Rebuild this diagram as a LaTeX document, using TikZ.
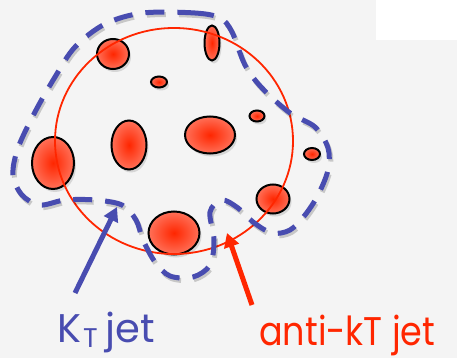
\documentclass[tikz,border=0pt]{standalone}
\usepackage{fontspec}
\setmainfont{Poppins}
\usetikzlibrary{arrows.meta,shapes.geometric,shadows}
\definecolor{ktblue}{RGB}{72,76,176}
\definecolor{akred}{RGB}{255,38,0}
\definecolor{blobedge}{RGB}{255,112,88}
\definecolor{bggray}{RGB}{244,244,244}

\begin{document}
\begin{tikzpicture}[
  x=1pt, y=-1pt,
  blob/.style={ellipse, draw=black, line width=2pt, inner sep=0pt,
    shading=radial, inner color=akred, outer color=blobedge,
    drop shadow={shadow xshift=2pt, shadow yshift=-3pt, opacity=0.25}},
  ktline/.style={draw=ktblue, line width=5pt, dash pattern=on 19pt off 13pt},
  arr/.style={-{Triangle[length=14pt, width=15pt]}, line width=5pt},
  lbl/.style={anchor=base west, inner sep=0pt, font=\fontsize{40}{44}\selectfont}
]
% background
\fill[bggray] (0,0) rectangle (457,358);
\fill[white] (376,0) rectangle (457,40);

% particles
\node[blob, minimum width=32, minimum height=30] (p1) at (113,54) {};
\node[blob, minimum width=15, minimum height=35] (p2) at (212,43) {};
\node[blob, minimum width=16, minimum height=11] (p3) at (159,82) {};
\node[blob, minimum width=15, minimum height=11] (p4) at (257,116) {};
\node[blob, minimum width=35, minimum height=49] (p5) at (129,145) {};
\node[blob, minimum width=50, minimum height=37] (p6) at (210,135) {};
\node[blob, minimum width=16, minimum height=12] (p7) at (312,154) {};
\node[blob, minimum width=42, minimum height=52] (p8) at (53,163) {};
\node[blob, minimum width=33, minimum height=29] (p9) at (273,199) {};
\node[blob, minimum width=51, minimum height=43] (p10) at (174,233) {};

% anti-kT jet
\draw[akred, line width=1.8pt] (174,141) ellipse [x radius=119, y radius=113];

% kT jet
\draw[ktline, draw=black, opacity=0.18, shift={(1.5,2.5)}] plot[smooth cycle, tension=0.55] coordinates {
  (143,13) (195,13) (220,18) (232,32) (245,65) (262,88) (290,113) (315,127)
  (328,148) (328,170) (318,195) (305,215) (290,230) (272,233) (253,222)
  (238,208) (222,200) (210,212) (214,240) (210,265) (193,277) (170,276)
  (155,262) (143,240) (136,220) (122,205) (95,200) (65,200) (40,205)
  (22,195) (13,175) (18,148) (35,112) (55,77) (75,47) (105,24)};
\draw[ktline] plot[smooth cycle, tension=0.55] coordinates {
  (143,13) (195,13) (220,18) (232,32) (245,65) (262,88) (290,113) (315,127)
  (328,148) (328,170) (318,195) (305,215) (290,230) (272,233) (253,222)
  (238,208) (222,200) (210,212) (214,240) (210,265) (193,277) (170,276)
  (155,262) (143,240) (136,220) (122,205) (95,200) (65,200) (40,205)
  (22,195) (13,175) (18,148) (35,112) (55,77) (75,47) (105,24)};

% labels
\node[lbl, text=ktblue] (ktlabel) at (57,342)
  {K\hspace{2pt}\raisebox{-5pt}{\fontsize{27}{27}\selectfont T}\hspace{8pt}jet};
\node[lbl, text=akred] (aklabel) at (259,345)
  {\scalebox{0.875}[1]{anti-kT jet}};

\coordinate (kttail) at (75,293);
\coordinate (kttip) at (117,207);
\coordinate (aktail) at (252,305);
\coordinate (aktip) at (227,233);
\draw[arr, ktblue] (kttail) -- (kttip);
\draw[arr, akred] (aktail) -- (aktip);
\end{tikzpicture}
\end{document}
